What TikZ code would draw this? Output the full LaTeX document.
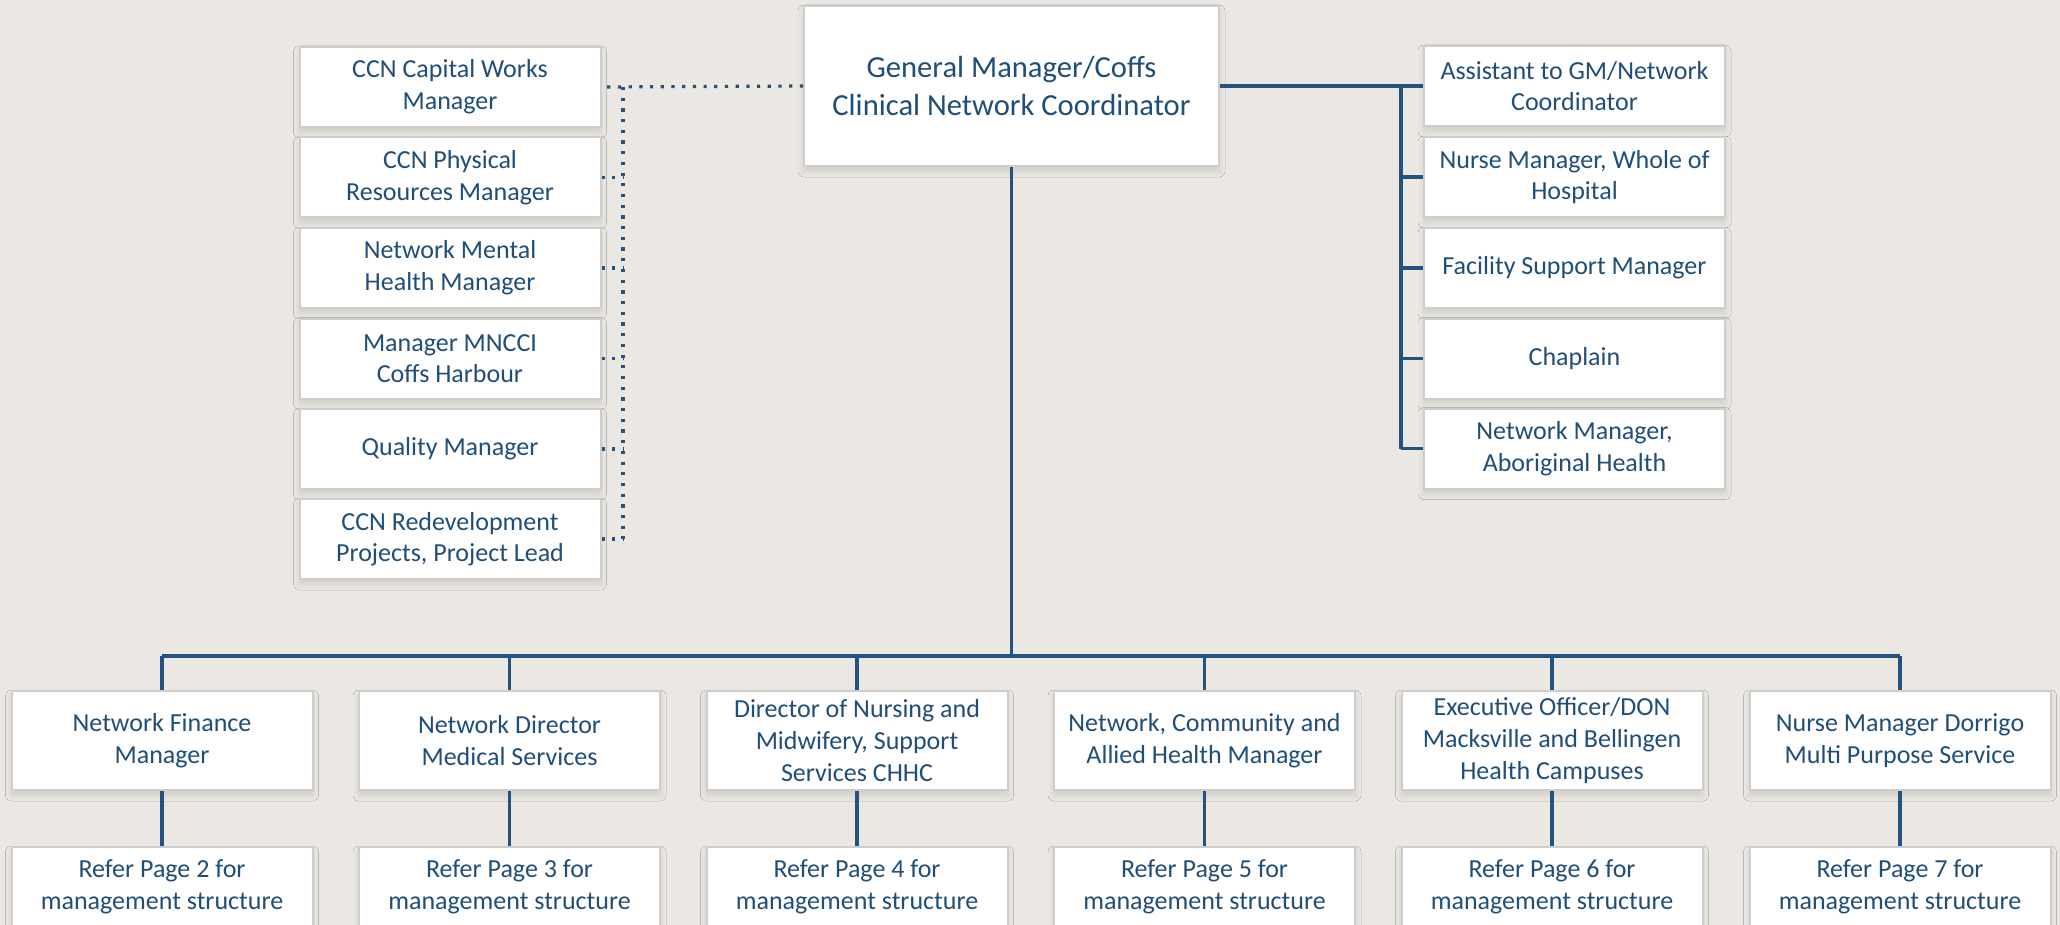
\documentclass[tikz,border=0pt]{standalone}
\usepackage{fontspec}
\setmainfont{Carlito}
\usetikzlibrary{shadows.blur}
\definecolor{navy}{HTML}{1F4E79}
\definecolor{boxgrey}{HTML}{CDCDCD}
\definecolor{paper}{HTML}{EBE8E3}
\definecolor{linkblue}{HTML}{24527F}
\tikzset{
  job/.style={draw=boxgrey, line width=1pt, fill=white, text=navy, align=center,
    font=\fontsize{13}{15.8}\selectfont, minimum width=150.5pt, minimum height=40pt, inner sep=0pt,
    blur shadow={shadow xshift=0pt, shadow yshift=-2.5pt, shadow blur radius=3pt,
      shadow opacity=12, shadow blur extra rounding=0pt}},
  tall/.style={minimum height=49.5pt},
  solidlink/.style={draw=linkblue, line width=1.7pt},
  dotlink/.style={draw=linkblue, line width=1.6pt, dash pattern=on 1.6pt off 3.75pt}
}
\begin{document}
\begin{tikzpicture}[x=0.5pt,y=-0.5pt]
    \fill[paper] (0,0) rectangle (2060,925);
    \useasboundingbox (0,0) rectangle (2060,925);
    \node[job, minimum width=207.5pt, minimum height=80pt, font=\fontsize{15.3}{19}\selectfont]
      (gm) at (1011.5,86) {General Manager/Coffs\\Clinical Network Coordinator};
    % dotted line reports
    \node[job] (l1) at (450,87) {CCN Capital Works\\Manager};
    \node[job] (l2) at (450,177.5) {CCN Physical\\Resources Manager};
    \node[job] (l3) at (450,268) {Network Mental\\Health Manager};
    \node[job] (l4) at (450,358.5) {Manager MNCCI\\Coffs Harbour};
    \node[job] (l5) at (450,449) {Quality Manager};
    \node[job] (l6) at (450,539) {CCN Redevelopment\\Projects, Project Lead};
    % direct reports
    \node[job] (r1) at (1574.5,86) {Assistant to GM/Network\\Coordinator};
    \node[job] (r2) at (1574.5,177) {Nurse Manager, Whole of\\Hospital};
    \node[job] (r3) at (1574.5,268) {Facility Support Manager};
    \node[job] (r4) at (1574.5,358.5) {Chaplain};
    \node[job] (r5) at (1574.5,448.5) {Network Manager,\\Aboriginal Health};
    % services
    \node[job, tall] (m1) at (162,740.5) {Network Finance\\Manager};
    \node[job, tall] (m2) at (509.5,740.5) {Network Director\\Medical Services};
    \node[job, tall] (m3) at (857,740.5) {Director of Nursing and\\Midwifery, Support\\Services CHHC};
    \node[job, tall] (m4) at (1204.5,740.5) {Network, Community and\\Allied Health Manager};
    \node[job, tall] (m5) at (1552,740.5) {Executive Officer/DON\\Macksville and Bellingen\\Health Campuses};
    \node[job, tall] (m6) at (1900,740.5) {Nurse Manager Dorrigo\\Multi Purpose Service};
    \foreach \i/\x in {1/162,2/509.5,3/857,4/1204.5,5/1552,6/1900}{
      \pgfmathtruncatemacro\pg{\i+1}
      \node[job] (p\i) at (\x,887) {Refer Page \pg{} for\\management structure};
      \draw[solidlink] (m\i) -- (p\i);
    }
    \coordinate (bus) at (1011.5,656);
    \coordinate (rbus) at (1401,86);
    \coordinate (lbus) at (623,87);
    \draw[solidlink] (gm) -- (bus);
    \draw[solidlink] (m1.north |- bus) -- (m6.north |- bus);
    \foreach \i in {1,...,6} \draw[solidlink] (m\i.north |- bus) -- (m\i);
    \draw[solidlink] (gm.east) -- (rbus) -- (rbus |- r5);
    \foreach \i in {1,...,5} \draw[solidlink] (rbus |- r\i) -- (r\i.west);
    \draw[dotlink] (gm.west) -- (l1.east);
    \draw[dotlink] (lbus) -- (lbus |- l6);
    \foreach \i in {2,...,6} \draw[dotlink] (l\i.east) -- (lbus |- l\i);
\end{tikzpicture}
\end{document}
